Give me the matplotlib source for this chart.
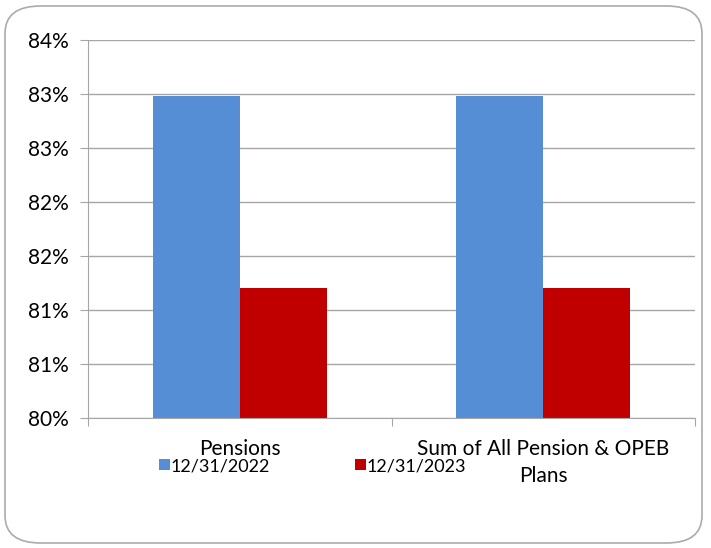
import matplotlib.pyplot as plt
import numpy as np
from matplotlib.patches import FancyBboxPatch
from matplotlib.ticker import FuncFormatter, MultipleLocator

# Data
categories = ["Pensions", "Sum of All Pension & OPEB\nPlans"]
series_names = ["12/31/2022", "12/31/2023"]
values_2022 = [82.98, 82.98]
values_2023 = [81.20, 81.20]
colors = ["#558ED5", "#C00000"]

plt.rcParams['font.family'] = ['Lato', 'DejaVu Sans']

fig = plt.figure(figsize=(7.11, 5.48), dpi=100)
ax = fig.add_axes([88 / 711, 1 - 418 / 548, 607 / 711, 378 / 548])

# rounded border around the chart
border = FancyBboxPatch((5 / 711, 5 / 548), 697 / 711, 537 / 548,
                        boxstyle="round,pad=0,rounding_size=0.05",
                        transform=fig.transFigure, fill=False,
                        edgecolor="#ABABAB", linewidth=1.2)
fig.patches.append(border)

x = np.arange(len(categories))
w = 0.287
b1 = ax.bar(x - w / 2, np.array(values_2022) - 80, w, bottom=80,
            color=colors[0], label=series_names[0])
b2 = ax.bar(x + w / 2, np.array(values_2023) - 80, w, bottom=80,
            color=colors[1], label=series_names[1])

ax.set_xlim(-0.5, 1.5)
ax.set_ylim(80, 83.5)
ax.yaxis.set_major_locator(MultipleLocator(0.5))
ax.yaxis.set_major_formatter(FuncFormatter(lambda v, p: f"{int(np.floor(v + 0.5 + 1e-9))}%"))
ax.grid(axis="y", color="#A6A6A6", linewidth=1)
ax.set_axisbelow(True)

for s in ["top", "right"]:
    ax.spines[s].set_visible(False)
for s in ["left", "bottom"]:
    ax.spines[s].set_color("#A6A6A6")

# category ticks at boundaries, labels in between
ax.set_xticks([-0.5, 0.5, 1.5])
ax.set_xticklabels([])
ax.set_xticks(x, minor=True)
ax.set_xticklabels(categories, minor=True, fontsize=15, linespacing=1.45)
ax.tick_params(axis="x", which="major", length=6, color="#A6A6A6")
ax.tick_params(axis="x", which="minor", length=0, pad=15)
ax.tick_params(axis="y", length=6, color="#A6A6A6", labelsize=15, pad=8)

leg = fig.legend(handles=[b1, b2], loc="center left",
                 bbox_to_anchor=(152 / 711, 1 - 466 / 548), ncol=2,
                 frameon=False, fontsize=13, handlelength=0.6,
                 handleheight=0.6, handletextpad=0.05, columnspacing=4.7,
                 borderaxespad=0)

fig.savefig("out.png", dpi=100)
